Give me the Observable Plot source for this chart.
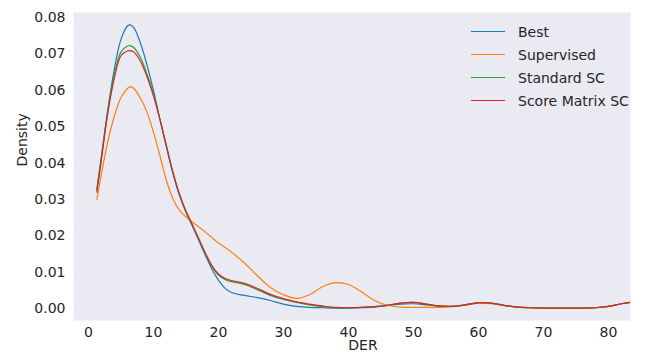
<!DOCTYPE html>
<html>
<head>
<meta charset="utf-8">
<script src="https://cdn.jsdelivr.net/npm/d3@7"></script>
<script src="https://cdn.jsdelivr.net/npm/@observablehq/plot@0.6"></script>
<style>
  html, body { margin: 0; padding: 0; background: #ffffff; }
  #wrap { position: relative; width: 647px; height: 360px; font-family: "DejaVu Sans", sans-serif; }
  #legend { position: absolute; left: 471px; top: 20px; font-size: 14px; color: #262626; }
  .row { display: flex; align-items: center; height: 23px; }
  .sw { width: 34px; height: 0; border-top: 1.3px solid; margin-right: 13px; }
</style>
</head>
<body>
<div id="wrap"></div>
<script>
const seriesNames = ["Best", "Supervised", "Standard SC", "Score Matrix SC"];
const seriesColors = ["#1f77b4", "#ff7f0e", "#2ca02c", "#d62728"];

const der = [1.3,2,3,4,5,6,6.4,7,8,9,10,11,12,13,14,15,16,17,18,19,20,21,22,24,26,28,30,32,34,36,38,40,42,44,46,48,50,52,54,56,58,60,62,64,66,68,70,72,74,76,78,80,82,83.4];

const best = [.033,.042,.055,.066,.0740,.0777,.0780,.0772,.0730,.0670,.0600,.0520,.0445,.0372,.0312,.0265,.0226,.0186,.0146,.0108,.0078,.0056,.0044,.0036,.0030,.0022,.0012,.0006,.0003,.0002,.0001,.0001,.0002,.0004,.0008,.0012,.0013,.0010,.0006,.0006,.0010,.0016,.0014,.0008,.0004,.0002,.0001,.0001,.0001,.0001,.0002,.0006,.0013,.0017];

const supervised = [.030,.037,.046,.053,.0580,.0605,.0610,.0605,.0578,.0540,.0485,.0420,.0352,.0302,.0270,.0252,.0238,.0224,.0210,.0195,.0180,.0168,.0155,.0125,.0090,.0058,.0038,.0028,.0038,.0060,.0071,.0066,.0046,.0022,.0009,.0004,.0003,.0003,.0003,.0005,.0009,.0014,.0013,.0008,.0004,.0002,.0001,.0001,.0001,.0001,.0002,.0006,.0013,.0016];

const standardSC = [.0325,.0415,.0545,.0645,.0705,.0722,.0723,.0717,.0690,.0645,.0590,.0520,.0445,.0373,.0313,.0266,.0228,.0189,.0150,.0115,.0092,.0080,.0074,.0066,.0052,.0036,.0025,.0017,.0010,.0005,.0002,.0002,.0003,.0005,.0009,.0015,.0017,.0012,.0007,.0006,.0010,.0016,.0015,.0009,.0004,.0002,.0001,.0001,.0001,.0001,.0002,.0006,.0013,.0017];

const scoreMatrixSC = [.032,.041,.054,.0635,.0695,.0708,.0709,.0705,.0680,.0638,.0585,.0520,.0447,.0375,.0315,.0268,.0230,.0191,.0152,.0118,.0095,.0083,.0077,.0069,.0055,.0039,.0027,.0018,.0012,.0007,.0003,.0002,.0003,.0005,.0009,.0015,.0017,.0012,.0007,.0006,.0010,.0016,.0015,.0009,.0004,.0002,.0001,.0001,.0001,.0001,.0002,.0006,.0013,.0017];

const xTicks = [0,10,20,30,40,50,60,70,80];
const yTicks = [0,0.01,0.02,0.03,0.04,0.05,0.06,0.07,0.08];

const seriesValues = [best, supervised, standardSC, scoreMatrixSC];
const rows = [];
seriesNames.forEach((name, i) => {
  der.forEach((x, j) => rows.push({series: name, x, y: seriesValues[i][j]}));
});

const chart = Plot.plot({
  width: 647,
  height: 360,
  marginLeft: 73,
  marginRight: 17,
  marginTop: 12,
  marginBottom: 40,
  style: {fontFamily: "DejaVu Sans, sans-serif", fontSize: "14px", color: "#262626", background: "#ffffff"},
  x: {domain: [-2.3, 83.4]},
  y: {domain: [-0.0033, 0.0814]},
  color: {domain: seriesNames, range: seriesColors},
  marks: [
    Plot.frame({fill: "#eaeaf2", stroke: null}),
    Plot.axisX({ticks: xTicks, tickSize: 0, tickPadding: 7, label: null, fontSize: 14}),
    Plot.axisY({ticks: yTicks, tickSize: 0, tickPadding: 8, label: null, tickFormat: d => d.toFixed(2), fontSize: 14}),
    Plot.line(rows, {x: "x", y: "y", z: "series", stroke: "series", strokeWidth: 1.2, curve: "catmull-rom", clip: true}),
    Plot.text(["DER"], {frameAnchor: "bottom", lineAnchor: "top", dy: 20, dx: 11, fontSize: 14, fill: "#262626"}),
    Plot.text(["Density"], {frameAnchor: "left", rotate: -90, dx: -51, fontSize: 14, fill: "#262626"})
  ]
});

const wrap = document.getElementById("wrap");
wrap.appendChild(chart);
const legend = document.createElement("div");
legend.id = "legend";
seriesNames.forEach((name, i) => {
  const r = document.createElement("div");
  r.className = "row";
  const sw = document.createElement("div");
  sw.className = "sw";
  sw.style.borderTopColor = seriesColors[i];
  const t = document.createElement("span");
  t.textContent = name;
  r.appendChild(sw); r.appendChild(t);
  legend.appendChild(r);
});
wrap.appendChild(legend);
</script>
</body>
</html>
